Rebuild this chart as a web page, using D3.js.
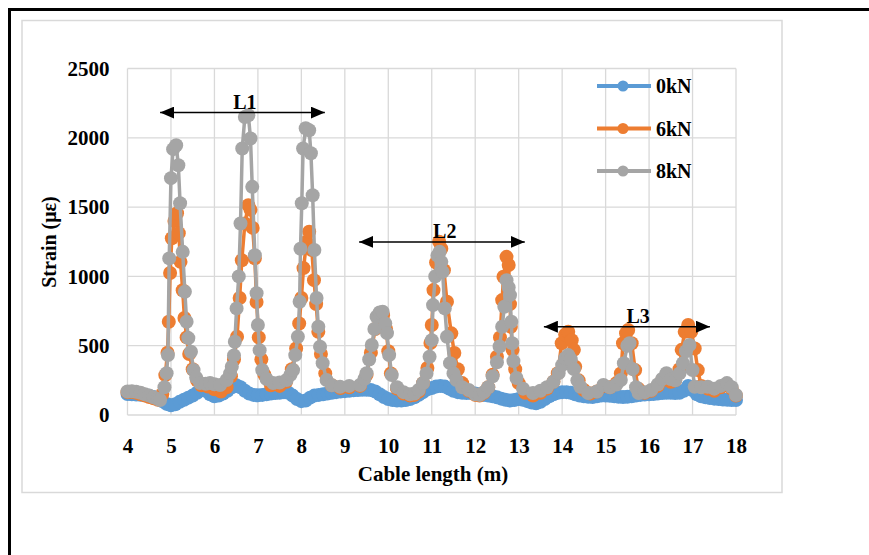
<!DOCTYPE html>
<html>
<head>
<meta charset="utf-8">
<script src="https://cdn.jsdelivr.net/npm/d3@7"></script>
<style>
  body { margin: 0; background: #fff; }
  text { font-family: "Liberation Serif", "Times New Roman", serif; font-weight: bold; fill: #000; }
</style>
</head>
<body>
<svg id="chart" width="869" height="555"></svg>
<script>
// the data: [cable length (m), strain (µε)]
const strain0kN = [
  [4.0,152],[4.1,150],[4.2,148],[4.3,146],[4.4,142],[4.5,138],[4.6,130],[4.7,118],[4.8,100],[4.9,80],
  [5.0,70],[5.1,78],[5.2,95],[5.3,110],[5.4,125],[5.5,140],[5.6,160],[5.7,180],[5.8,175],[5.9,150],
  [6.0,135],[6.1,140],[6.2,155],[6.3,175],[6.4,200],[6.5,215],[6.6,200],[6.7,175],[6.8,155],[6.9,145],
  [7.0,142],[7.1,145],[7.2,150],[7.3,155],[7.4,158],[7.5,160],[7.6,165],[7.7,160],[7.8,140],[7.9,115],
  [8.0,100],[8.1,105],[8.2,125],[8.3,140],[8.4,145],[8.5,150],[8.6,155],[8.7,160],[8.8,165],[8.9,170],
  [9.0,172],[9.1,175],[9.2,178],[9.3,180],[9.4,182],[9.5,182],[9.6,180],[9.7,170],[9.8,150],[9.9,130],
  [10.0,115],[10.1,108],[10.2,105],[10.3,105],[10.4,108],[10.5,115],[10.6,128],[10.7,145],[10.8,165],[10.9,185],
  [11.0,195],[11.1,205],[11.2,210],[11.3,205],[11.4,190],[11.5,175],[11.6,165],[11.7,160],[11.8,158],[11.9,158],
  [12.0,155],[12.1,150],[12.2,145],[12.3,140],[12.4,135],[12.5,128],[12.6,118],[12.7,110],[12.8,105],[12.9,108],
  [13.0,115],[13.1,110],[13.2,100],[13.3,90],[13.4,85],[13.5,95],[13.6,115],[13.7,135],[13.8,150],[13.9,160],
  [14.0,165],[14.1,165],[14.2,160],[14.3,150],[14.4,140],[14.5,135],[14.6,132],[14.7,130],[14.8,135],[14.9,140],
  [15.0,140],[15.1,138],[15.2,135],[15.3,132],[15.4,130],[15.5,132],[15.6,135],[15.7,140],[15.8,145],[15.9,148],
  [16.0,150],[16.1,152],[16.2,155],[16.3,158],[16.4,160],[16.5,160],[16.6,158],[16.7,160],[16.8,175],[16.9,210],
  [17.0,180],[17.1,150],[17.2,135],[17.3,128],[17.4,122],[17.5,118],[17.6,115],[17.7,112],[17.8,110],[17.9,108],
  [18.0,108]
];

const strain6kN = [
  [4.0,165],[4.1,166],[4.2,160],[4.3,150],[4.4,140],[4.5,130],[4.6,120],[4.7,110],[4.8,150],[4.87,288],
  [4.92,450],[4.95,673],[4.98,1024],[5.02,1275],[5.08,1400],[5.14,1456],[5.18,1312],[5.22,1105],[5.27,900],[5.31,700],
  [5.36,560],[5.42,440],[5.5,330],[5.6,250],[5.7,215],[5.85,205],[6.0,185],[6.15,170],[6.28,200],[6.38,280],
  [6.45,400],[6.52,565],[6.58,844],[6.63,1117],[6.7,1382],[6.78,1514],[6.83,1480],[6.88,1350],[6.93,1130],[6.97,815],
  [7.02,560],[7.08,400],[7.15,290],[7.3,215],[7.5,210],[7.65,240],[7.78,330],[7.88,480],[7.95,660],[8.0,844],
  [8.05,1060],[8.12,1250],[8.18,1322],[8.24,1190],[8.29,973],[8.34,800],[8.39,600],[8.45,440],[8.55,300],[8.7,215],
  [8.9,195],[9.1,200],[9.35,210],[9.5,290],[9.6,450],[9.7,620],[9.8,700],[9.88,720],[9.95,620],[10.0,460],
  [10.06,300],[10.2,190],[10.35,155],[10.5,140],[10.6,145],[10.7,170],[10.8,230],[10.9,340],[10.97,520],[11.0,649],
  [11.04,901],[11.1,1100],[11.17,1250],[11.22,1200],[11.28,1045],[11.35,817],[11.45,589],[11.52,447],[11.6,330],[11.7,230],
  [11.85,175],[12.0,145],[12.1,140],[12.2,160],[12.3,200],[12.4,290],[12.5,420],[12.57,560],[12.62,829],[12.65,997],
  [12.72,1141],[12.77,1082],[12.8,800],[12.82,637],[12.86,470],[12.92,330],[13.0,230],[13.15,160],[13.33,140],[13.5,160],
  [13.65,190],[13.8,240],[13.9,302],[13.99,518],[14.07,580],[14.14,601],[14.22,540],[14.27,470],[14.3,348],[14.38,250],
  [14.5,180],[14.65,155],[14.8,170],[14.95,210],[15.1,200],[15.25,230],[15.35,300],[15.4,518],[15.47,590],[15.52,613],
  [15.6,518],[15.68,324],[15.75,190],[15.9,160],[16.05,175],[16.2,210],[16.3,250],[16.4,280],[16.5,240],[16.6,250],
  [16.7,330],[16.75,470],[16.82,600],[16.9,649],[16.97,600],[17.05,480],[17.12,324],[17.2,210],[17.35,190],[17.5,175],
  [17.65,200],[17.79,215],[17.9,190],[18.0,140]
];

const strain8kN = [
  [4.0,170],[4.1,172],[4.2,168],[4.3,160],[4.4,150],[4.5,140],[4.6,128],[4.7,115],[4.75,108],[4.85,200],
  [4.9,302],[4.93,432],[4.96,1130],[5.0,1709],[5.05,1918],[5.12,1946],[5.17,1802],[5.21,1528],[5.27,1177],[5.32,889],
  [5.36,673],[5.4,555],[5.46,456],[5.52,324],[5.58,270],[5.67,230],[5.8,225],[5.9,230],[6.0,222],[6.13,216],
  [6.28,252],[6.36,300],[6.4,348],[6.45,430],[6.47,528],[6.51,769],[6.56,1000],[6.6,1382],[6.64,1923],[6.7,2150],
  [6.78,2163],[6.83,1995],[6.87,1646],[6.93,1153],[6.97,879],[7.0,649],[7.04,468],[7.1,324],[7.2,260],[7.35,230],
  [7.5,235],[7.66,252],[7.75,290],[7.81,324],[7.86,432],[7.92,565],[7.96,817],[7.98,1200],[8.01,1528],[8.04,1923],
  [8.1,2069],[8.18,2055],[8.22,1888],[8.26,1586],[8.3,1190],[8.35,844],[8.39,637],[8.43,492],[8.49,374],[8.58,252],
  [8.7,215],[8.89,204],[9.1,210],[9.35,216],[9.45,260],[9.5,302],[9.56,400],[9.62,505],[9.68,620],[9.73,709],
  [9.8,740],[9.87,745],[9.93,660],[9.97,591],[10.02,432],[10.08,288],[10.2,200],[10.35,165],[10.5,150],[10.6,155],
  [10.7,180],[10.8,230],[10.88,300],[10.95,420],[11.0,540],[11.03,793],[11.08,1000],[11.13,1150],[11.18,1177],[11.22,1105],
  [11.25,1033],[11.3,769],[11.35,565],[11.42,374],[11.5,300],[11.57,252],[11.7,200],[11.85,180],[12.0,150],[12.1,145],
  [12.2,165],[12.3,200],[12.4,280],[12.5,380],[12.56,494],[12.62,637],[12.67,781],[12.72,973],[12.77,920],[12.8,865],
  [12.83,673],[12.85,518],[12.88,389],[12.95,267],[13.1,190],[13.33,158],[13.5,175],[13.65,200],[13.8,240],[13.92,302],
  [14.0,360],[14.07,410],[14.14,432],[14.2,400],[14.27,331],[14.35,250],[14.42,204],[14.6,158],[14.8,170],[14.95,216],
  [15.1,200],[15.25,220],[15.35,252],[15.42,374],[15.5,500],[15.55,518],[15.62,331],[15.7,200],[15.76,158],[15.9,165],
  [16.05,180],[16.2,220],[16.3,260],[16.4,302],[16.5,260],[16.6,250],[16.7,300],[16.78,374],[16.85,460],[16.93,505],
  [17.0,324],[17.05,204],[17.2,200],[17.35,204],[17.5,190],[17.65,210],[17.79,230],[17.9,200],[18.0,144]
];

const seriesNames = ["0kN", "6kN", "8kN"];
const seriesColors = ["#5b9bd5", "#ed7d31", "#a5a5a5"];
const xTicks = [4, 5, 6, 7, 8, 9, 10, 11, 12, 13, 14, 15, 16, 17, 18];
const yTicks = [0, 500, 1000, 1500, 2000, 2500];

// annotations: [label, from x, to x, y (µε), label x]
const spans = [
  ["L1", 4.75, 8.54, 2182, 6.7],
  ["L2", 9.33, 13.14, 1249, 11.3],
  ["L3", 13.58, 17.4, 637, 15.75]
];

// The svg
let svg = d3.select("#chart");

// outer black frame (cut off on the right and bottom)
svg.append("rect")
    .attr("x", 9.5).attr("y", 9.5)
    .attr("width", 900).attr("height", 600)
    .attr("fill", "none").attr("stroke", "#000").attr("stroke-width", 3);

// chart area border
svg.append("rect")
    .attr("x", 22).attr("y", 20.5)
    .attr("width", 760).attr("height", 472)
    .attr("fill", "#fff").attr("stroke", "#d9d9d9").attr("stroke-width", 1.5);

let x = d3.scaleLinear().domain([4, 18]).range([127.5, 736]);
let y = d3.scaleLinear().domain([0, 2500]).range([415, 68.5]);

// grid
svg.append("g")
    .selectAll("line")
    .data(xTicks)
    .enter()
    .append("line")
    .attr("x1", d => x(d)).attr("x2", d => x(d))
    .attr("y1", y(0)).attr("y2", y(2500))
    .attr("stroke", "#d9d9d9").attr("stroke-width", 1.3);

svg.append("g")
    .selectAll("line")
    .data(yTicks)
    .enter()
    .append("line")
    .attr("x1", x(4)).attr("x2", x(18))
    .attr("y1", d => y(d)).attr("y2", d => y(d))
    .attr("stroke", "#d9d9d9").attr("stroke-width", 1.3);

// axes (labels only, Excel style)
let xAxis = svg.append("g")
    .attr("transform", "translate(0," + y(0) + ")")
    .call(d3.axisBottom(x).tickValues(xTicks).tickFormat(d3.format("d")).tickSize(0).tickPadding(23));
let yAxis = svg.append("g")
    .attr("transform", "translate(" + x(4) + ",0)")
    .call(d3.axisLeft(y).tickValues(yTicks).tickFormat(d3.format("d")).tickSize(0).tickPadding(18));

[xAxis, yAxis].forEach(a => {
    a.select(".domain").remove();
    a.selectAll("text")
        .style("font-family", "'Liberation Serif', 'Times New Roman', serif")
        .style("font-weight", "bold")
        .style("font-size", "21px")
        .attr("fill", "#000");
});

// axis titles
svg.append("text")
    .attr("x", 433).attr("y", 481)
    .attr("text-anchor", "middle")
    .style("font-size", "21px")
    .text("Cable length (m)");

svg.append("text")
    .attr("transform", "translate(56,242) rotate(-90)")
    .attr("text-anchor", "middle")
    .style("font-size", "20px")
    .text("Strain (με)");

// series
let line = d3.line().x(d => x(d[0])).y(d => y(d[1]));
let allSeries = [strain0kN, strain6kN, strain8kN];

allSeries.forEach((data, i) => {
    let g = svg.append("g");
    g.append("path")
        .datum(data)
        .attr("d", line)
        .attr("fill", "none")
        .attr("stroke", seriesColors[i])
        .attr("stroke-width", 3.5)
        .attr("stroke-linejoin", "round");
    g.selectAll("circle")
        .data(data)
        .enter()
        .append("circle")
        .attr("cx", d => x(d[0]))
        .attr("cy", d => y(d[1]))
        .attr("r", 7)
        .attr("fill", seriesColors[i]);
});

// span arrows
svg.append("defs").append("marker")
    .attr("id", "head")
    .attr("viewBox", "0 0 14 12")
    .attr("refX", 14).attr("refY", 6)
    .attr("markerWidth", 14).attr("markerHeight", 12)
    .attr("markerUnits", "userSpaceOnUse")
    .attr("orient", "auto-start-reverse")
    .append("path")
    .attr("d", "M0,0 L14,6 L0,12 Z")
    .attr("fill", "#000");

let ann = svg.append("g")
    .selectAll("g")
    .data(spans)
    .enter()
    .append("g");

ann.append("line")
    .attr("x1", d => x(d[1])).attr("x2", d => x(d[2]))
    .attr("y1", d => y(d[3])).attr("y2", d => y(d[3]))
    .attr("stroke", "#000").attr("stroke-width", 1.5)
    .attr("marker-start", "url(#head)")
    .attr("marker-end", "url(#head)");

ann.append("text")
    .attr("x", d => x(d[4]))
    .attr("y", d => y(d[3]) - 4)
    .attr("text-anchor", "middle")
    .style("font-size", "20px")
    .text(d => d[0]);

// legend
let legend = svg.append("g")
    .selectAll("g")
    .data(seriesNames)
    .enter()
    .append("g")
    .attr("transform", (d, i) => "translate(597," + (86 + i * 42.5) + ")");

legend.append("line")
    .attr("x1", 0).attr("x2", 54)
    .attr("stroke", (d, i) => seriesColors[i])
    .attr("stroke-width", 4);
legend.append("circle")
    .attr("cx", 26).attr("r", 5.5)
    .attr("fill", (d, i) => seriesColors[i]);
legend.append("text")
    .attr("x", 59).attr("y", 7)
    .style("font-size", "20px")
    .text(d => d);
</script>
</body>
</html>
